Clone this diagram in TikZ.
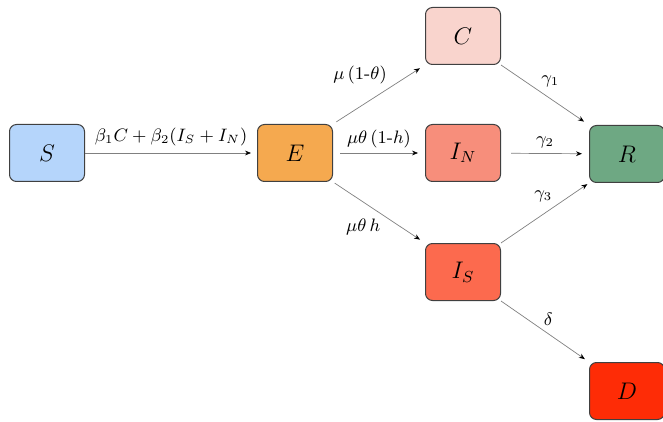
\documentclass[tikz,border=0pt]{standalone}
\usepackage{amsmath,amssymb}
\usepackage{tikz}
\usetikzlibrary{positioning,arrows.meta,calc}

\definecolor{sblue}{HTML}{B5D5FB}
\definecolor{eorange}{HTML}{F5A94F}
\definecolor{cpink}{HTML}{F9D4CD}
\definecolor{insalmon}{HTML}{F78E7B}
\definecolor{rgreen}{HTML}{6EA883}
\definecolor{isred}{HTML}{FC6A4E}
\definecolor{dred}{HTML}{FE2C06}

\begin{document}
\begin{tikzpicture}[x=0.5pt,y=-0.5pt,font=\small,
    box/.style={draw=black!75, line width=0.5pt, rounded corners=3.5pt,
                minimum width=37.5pt, minimum height=28.5pt, inner sep=0pt, font=\large},
    flow/.style={draw=black!50, line width=0.35pt, -{Stealth[length=3pt,width=2.4pt,black]}},
    lbl/.style={font=\small, inner sep=1.5pt}]
    \useasboundingbox (0,0) rectangle (663,422);
    % compartments
    \node[box, fill=sblue]    (S)  at (47,153)  {$S$};
    \node[box, fill=eorange]  (E)  at (295,153) {$E$};
    \node[box, fill=cpink]    (C)  at (463,36)  {$C$};
    \node[box, fill=insalmon] (IN) at (463,153) {$I_N$};
    \node[box, fill=isred]    (IS) at (463,272) {$I_S$};
    \node[box, fill=rgreen]   (R)  at (627,154) {$R$};
    \node[box, fill=dred]     (D)  at (627,391) {$D$};
    % flows
    \draw[flow, shorten >=3pt] (S) -- node[lbl, above, yshift=2pt] {$\beta_1 C + \beta_2 (I_S + I_N)$} (E);
    \draw[flow, shorten <=2pt, shorten >=3pt] (E.north east) -- node[lbl, above left, pos=0.62] {$\mu\,(1\text{-}\theta)$} (C.south west);
    \draw[flow, shorten <=3.5pt, shorten >=3.5pt] (E) -- node[lbl, above, yshift=1pt] {$\mu\theta\,(1\text{-}h)$} (IN);
    \draw[flow, shorten <=1pt, shorten >=3pt] (E.south east) -- node[lbl, below left, pos=0.55] {$\mu\theta\, h$} (IS.north west);
    \draw[flow, shorten >=3pt] (C.south east) -- node[lbl, above right, pos=0.42] {$\gamma_1$} (R.north west);
    \draw[flow, shorten <=5pt, shorten >=3.5pt] (IN) -- node[lbl, above, yshift=1pt] {$\gamma_2$} (R);
    \draw[flow, shorten >=1pt] (IS.north east) -- node[lbl, above left, pos=0.62] {$\gamma_3$} (R.south west);
    \draw[flow, shorten >=2.5pt] (IS.south east) -- node[lbl, above right, pos=0.45] {$\delta$} (D.north west);
\end{tikzpicture}
\end{document}
